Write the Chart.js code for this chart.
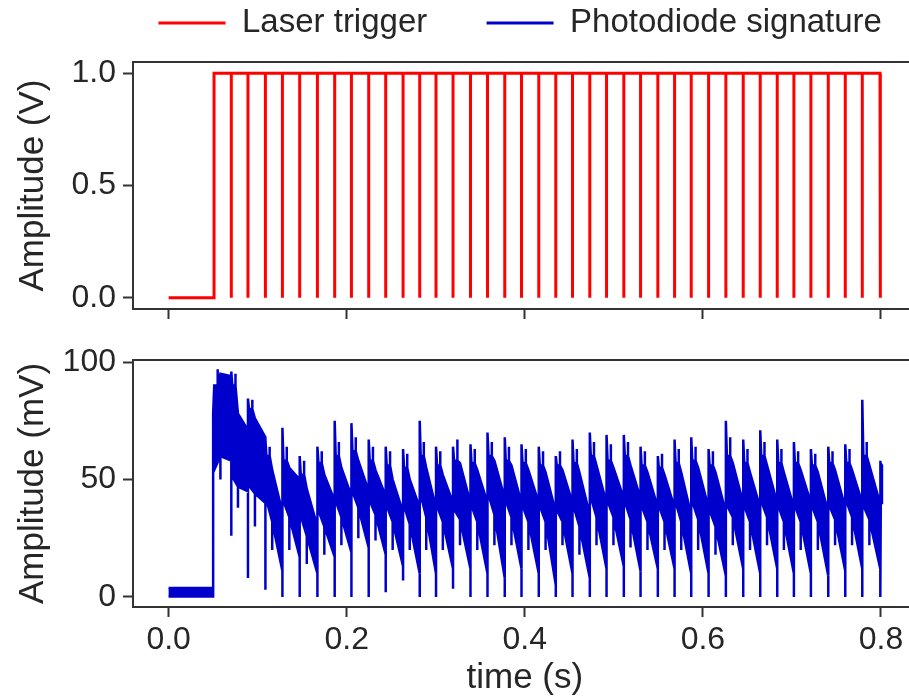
<!DOCTYPE html>
<html>
<head>
<meta charset="utf-8">
<script src="https://cdn.jsdelivr.net/npm/chart.js@4.4.1/dist/chart.umd.min.js"></script>
<style>
html,body{margin:0;padding:0;background:#fff;overflow:hidden;width:909px;height:699px;}
#wrap{position:relative;width:909px;height:699px;overflow:hidden;background:#fff;}
canvas{position:absolute;left:0;top:0;}
</style>
</head>
<body>
<div id="wrap">
  <canvas id="cBottom" width="940" height="699" style="width:940px;height:699px;"></canvas>
  <canvas id="cTop" width="940" height="336" style="width:940px;height:336px;"></canvas>
  <canvas id="cLegend" width="1100" height="200" style="width:1100px;height:200px;"></canvas>
</div>
<script>
// ---------------- data ----------------
const seriesNames = ['Laser trigger', 'Photodiode signature'];
const xTickValues = [0.0, 0.2, 0.4, 0.6, 0.8];
const yTopTickValues = [0.0, 0.5, 1.0];
const yBottomTickValues = [0, 50, 100];

// laser trigger (V): levels, rise time, drop times (s), end time
const triggerLow = 0;
const triggerHigh = 1;
const triggerStart = 0.0;
const triggerRise = 0.051;
const triggerDrops = [0.0704, 0.0891, 0.1087, 0.1278, 0.1472, 0.1671, 0.1865, 0.2053, 0.2247, 0.2438,
  0.2633, 0.2820, 0.3003, 0.3194, 0.3390, 0.3581, 0.3775, 0.3963, 0.4157, 0.4348,
  0.4536, 0.4730, 0.4918, 0.5112, 0.5300, 0.5494, 0.5682, 0.5869, 0.6064, 0.6258,
  0.6453, 0.6644, 0.6835, 0.7022, 0.7213, 0.7408, 0.7599, 0.7790, 0.7989];
const triggerEnd = 0.800;

// photodiode signature (mV): baseline band before the rise, then one noisy
// saw-tooth per trigger period, described by its upper / lower envelope
const pdStart = 0.0;
const pdRise = 0.050;
const pdEnd = 0.8011;
const pdBaseTop = 3.8;
const pdBaseBottom = 0.2;
const pdPeakTop       = [78, 96, 84.5, 67, 72, 60, 64, 75, 74, 67, 64, 63, 75, 64, 64, 65, 70, 68, 65, 64,
                         60, 67, 70, 69, 69, 64, 60, 67, 68, 63, 75, 67, 71, 67, 66, 63, 64, 65, 84, 58];
const pdShoulderTop   = [90, 90, 80, 60, 58, 52, 57, 60, 62, 58, 56, 55, 60, 56, 58, 57, 60, 58, 57, 56,
                         56, 57, 60, 58, 60, 56, 55, 57, 58, 56, 60, 57, 60, 57, 57, 56, 57, 57, 60, 57];
const pdSpikeUp       = [97, 95, 84, 64, 64, 58, 62, 66, 68, 64, 62, 61, 66, 62, 67, 63, 66, 64, 63, 62,
                         62, 63, 66, 65, 66, 62, 61, 63, 64, 62, 68, 63, 66, 63, 62, 61, 62, 63, 66, 58];
const pdPlateauTop    = [95, 78, 76, 54, 55, 46, 52, 55, 58, 54, 50, 50, 55, 52, 57, 54, 58, 56, 54, 53,
                         54, 53, 56, 55, 56, 53, 52, 53, 55, 53, 57, 53, 56, 53, 54, 53, 54, 54, 56, 57];
const pdEndTop        = [94, 71, 68, 36, 50, 30, 41, 43, 45, 43, 36, 38, 38, 40, 40, 40, 42, 40, 40, 36,
                         40, 35, 40, 42, 42, 38, 38, 35, 38, 36, 40, 38, 40, 38, 40, 36, 38, 40, 40, 56];
const pdStartBottom   = [53, 52, 48, 43, 42, 36, 38, 42, 46, 42, 40, 40, 45, 40, 38, 40, 45, 42, 40, 40,
                         38, 40, 44, 42, 42, 40, 40, 42, 42, 38, 40, 40, 42, 40, 40, 40, 40, 42, 40, 40];
const pdPlateauBottom = [60, 47, 44, 32, 34, 26, 30, 34, 38, 35, 32, 31, 34, 32, 33, 32, 35, 34, 32, 32,
                         32, 30, 34, 34, 33, 32, 32, 32, 33, 30, 34, 32, 34, 32, 32, 32, 33, 34, 33, 40];
const pdSpikeDown     = [50, 38, 30, 20, 20, 14, 18, 22, 25, 24, 20, 20, 20, 20, 22, 20, 22, 22, 20, 20,
                         22, 18, 22, 22, 21, 20, 20, 20, 20, 18, 22, 20, 22, 20, 20, 20, 22, 22, 22, 40];
const pdEndBottom     = [58, 45, 40, 11, 17, 10, 17, 19, 21, 18, 13, 10, 10, 12, 12, 10, 8, 12, 10, 5,
                         10, 8, 12, 13, 11, 12, 12, 10, 10, 9, 12, 10, 12, 10, 10, 9, 11, 12, 12, 40];
const pdDip           = [26, 8, 3, 0, 0, 0, 0, 0, 0, 2, 7, 0, 0, 3.5, 0, 0, 0, 0, 0, 0,
                         0, 0, 0, 0, 0, 0, 0, 0, 0, 0, 0, 0, 0, 0, 0, 0, 0, 0, 0];

// ---------------- styles ----------------
const FONT = "'Liberation Sans', Arial, Helvetica, sans-serif";
const RED = '#ff0000';
const BLUE = '#0000cc';
const AXIS = '#333333';
const TEXT = '#262626';
Chart.defaults.font.family = FONT;

// ---------------- build tables for the library ----------------
const triggerPoints = [{x: triggerStart, y: triggerLow}, {x: triggerRise, y: triggerLow}, {x: triggerRise, y: triggerHigh}];
triggerDrops.forEach(t => {
  triggerPoints.push({x: t, y: triggerHigh}, {x: t, y: triggerLow}, {x: t, y: triggerHigh});
});
triggerPoints.push({x: triggerEnd, y: triggerHigh});

// where, inside one trigger period, the envelope features sit
const SHOULDER = 0.06, SPIKE_UP = 0.25, PLATEAU = 0.4;
const cycleStarts = [pdRise].concat(triggerDrops);
const cycleEnds = triggerDrops.concat([pdEnd]);
const upper = [{x: pdStart, y: pdBaseTop}, {x: pdRise, y: pdBaseTop}];
const lower = [{x: pdStart, y: pdBaseBottom}, {x: pdRise, y: pdBaseBottom}];
cycleStarts.forEach((s, c) => {
  const e = cycleEnds[c];
  const at = f => s + f * (e - s);
  if (c > 0) lower.push({x: s, y: pdDip[c - 1]});
  upper.push(
    {x: s, y: pdPeakTop[c]},
    {x: at(SHOULDER), y: pdShoulderTop[c]},
    {x: at(SPIKE_UP), y: pdShoulderTop[c]},
    {x: at(SPIKE_UP), y: pdSpikeUp[c]},
    {x: at(SPIKE_UP), y: pdShoulderTop[c]},
    {x: at(PLATEAU), y: pdPlateauTop[c]},
    {x: e, y: pdEndTop[c]}
  );
  lower.push(
    {x: s, y: pdStartBottom[c]},
    {x: at(PLATEAU), y: pdPlateauBottom[c]},
    {x: at(PLATEAU), y: pdSpikeDown[c]},
    {x: at(PLATEAU), y: pdPlateauBottom[c]},
    {x: e, y: pdEndBottom[c]}
  );
});
const photodiodeShape = upper.concat(lower.slice().reverse());

// ---------------- helpers ----------------
const framePlugin = {
  id: 'frame',
  afterDraw(chart) {
    const {ctx, chartArea: a} = chart;
    ctx.save();
    ctx.strokeStyle = AXIS;
    ctx.lineWidth = 2;
    ctx.strokeRect(a.left, a.top, a.right - a.left, a.bottom - a.top);
    ctx.restore();
  }
};
const tickGrid = {drawOnChartArea: false, drawTicks: true, tickLength: 10, tickWidth: 2, tickColor: AXIS};
const tickFont = {family: FONT, size: 32};
const titleFont = {family: FONT, size: 35};
const setTicks = vals => scale => { scale.ticks = vals.map(v => ({value: v})); };

// ---------------- top panel ----------------
new Chart(document.getElementById('cTop'), {
  type: 'line',
  data: {datasets: [{
    label: seriesNames[0], data: triggerPoints, borderColor: RED, backgroundColor: RED,
    borderWidth: 3, pointRadius: 0, fill: false, tension: 0
  }]},
  options: {
    responsive: false, animation: false, events: [],
    layout: {padding: {top: 62, left: 0, right: 23.4, bottom: 0}},
    plugins: {legend: {display: false}, tooltip: {enabled: false}},
    scales: {
      x: {
        type: 'linear', min: -0.04, max: 0.84,
        afterBuildTicks: setTicks(xTickValues),
        ticks: {display: false},
        grid: tickGrid, border: {display: false},
        afterFit: s => { s.height = 27; }
      },
      y: {
        type: 'linear', min: -0.05, max: 1.05,
        afterBuildTicks: setTicks(yTopTickValues),
        ticks: {font: tickFont, color: TEXT, padding: 7, callback: v => Number(v).toFixed(1)},
        grid: tickGrid, border: {display: false},
        title: {display: true, text: 'Amplitude (V)', font: titleFont, color: TEXT, padding: {top: 12, bottom: 0}},
        afterFit: s => { s.width = 133; }
      }
    }
  },
  plugins: [framePlugin]
});

// ---------------- bottom panel ----------------
new Chart(document.getElementById('cBottom'), {
  type: 'line',
  data: {datasets: [{
    label: seriesNames[1], data: photodiodeShape, borderColor: BLUE, backgroundColor: BLUE,
    borderWidth: 2.5, pointRadius: 0, fill: 'shape', tension: 0, borderJoinStyle: 'miter'
  }]},
  options: {
    responsive: false, animation: false, events: [],
    layout: {padding: {top: 360, left: 0, right: 23.4, bottom: 0}},
    plugins: {legend: {display: false}, tooltip: {enabled: false}},
    scales: {
      x: {
        type: 'linear', min: -0.04, max: 0.84,
        afterBuildTicks: setTicks(xTickValues),
        ticks: {font: tickFont, color: TEXT, padding: 4, maxRotation: 0, callback: v => Number(v).toFixed(1)},
        grid: tickGrid, border: {display: false},
        title: {display: true, text: 'time (s)', font: titleFont, color: TEXT, padding: {top: 0, bottom: 0}},
        afterFit: s => { s.height = 92; }
      },
      y: {
        type: 'linear', min: -4.3, max: 100.9,
        afterBuildTicks: setTicks(yBottomTickValues),
        ticks: {font: tickFont, color: TEXT, padding: 7, callback: v => String(v)},
        grid: tickGrid, border: {display: false},
        title: {display: true, text: 'Amplitude (mV)', font: titleFont, color: TEXT, padding: {top: 12, bottom: 0}},
        afterFit: s => { s.width = 133; }
      }
    }
  },
  plugins: [framePlugin]
});

// ---------------- legend ----------------
new Chart(document.getElementById('cLegend'), {
  type: 'line',
  data: {datasets: [
    {label: seriesNames[0], data: [], borderColor: RED, backgroundColor: RED, borderWidth: 3},
    {label: seriesNames[1], data: [], borderColor: BLUE, backgroundColor: BLUE, borderWidth: 3}
  ]},
  options: {
    responsive: false, animation: false, events: [],
    layout: {padding: {top: -52.8, left: 99.2, right: 0, bottom: 0}},
    plugins: {
      tooltip: {enabled: false},
      legend: {
        display: true, position: 'top', align: 'start',
        labels: {usePointStyle: true, pointStyle: 'line', pointStyleWidth: 67, padding: 59.3,
                 font: {family: FONT, size: 33}, color: TEXT}
      }
    },
    scales: {x: {display: false}, y: {display: false}}
  }
});
</script>
</body>
</html>
